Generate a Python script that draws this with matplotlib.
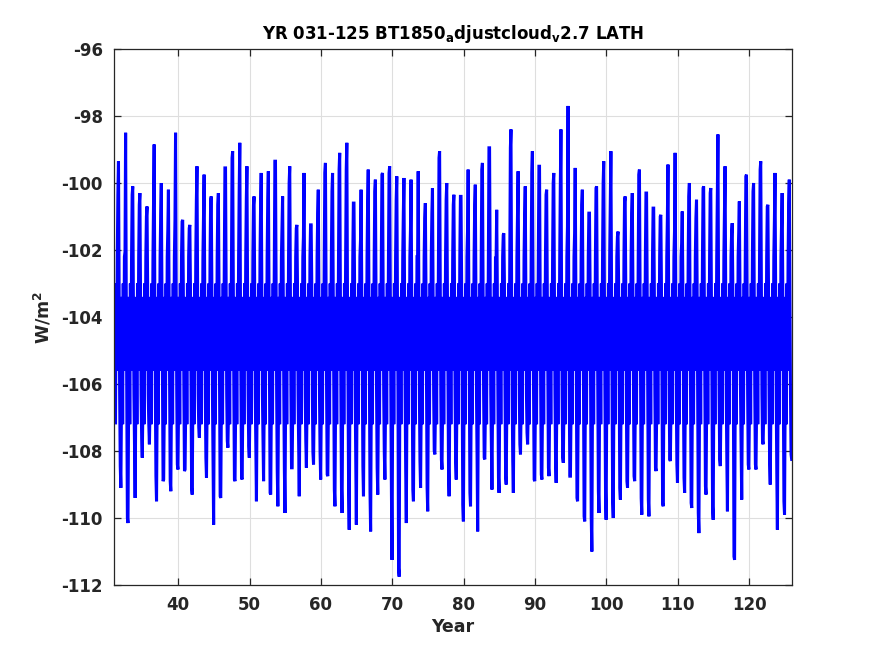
"""Monthly LATH time series, years 031-125, MATLAB-style line plot."""
import matplotlib
matplotlib.use("Agg")
import matplotlib.pyplot as plt
import numpy as np

# --- data -----------------------------------------------------------------
YEARS = list(range(31, 126))

# annual maximum (single-month spike, around Aug) per year
PEAK = [
    -99.35, -98.5, -100.1, -100.3, -100.7, -98.85, -100.0, -100.2, -98.5,    # 31-39
    -101.1, -101.25, -99.5, -99.75, -100.4, -100.3, -99.55, -99.05, -98.8, -99.5,  # 40-49
    -100.4, -99.7, -99.65, -99.35, -100.4, -99.5, -101.25, -99.7, -101.25, -100.2,  # 50-59
    -99.4, -99.7, -99.1, -98.8, -100.6, -100.2, -99.6, -99.9, -99.7, -99.5,    # 60-69
    -99.8, -99.85, -99.9, -99.65, -100.6, -100.15, -99.05, -100.0, -100.35, -100.4,  # 70-79
    -99.6, -100.05, -99.4, -98.95, -100.8, -101.5, -98.4, -99.65, -100.1, -99.05,  # 80-89
    -99.5, -100.2, -99.7, -98.4, -97.7, -99.55, -100.2, -100.9, -100.1, -99.35,  # 90-99
    -99.05, -101.45, -100.4, -100.3, -99.6, -100.3, -100.75, -100.95, -99.45, -99.1,  # 100-109
    -100.85, -100.0, -100.5, -100.1, -100.15, -98.55, -99.5, -101.2, -100.55, -99.75,  # 110-119
    -100.0, -99.35, -100.65, -99.7, -100.3, -99.9,                               # 120-125
]

# second-highest month of each year (next to the peak)
SHOULDER_HI = [
    -100.35, -102.05, -100.35, -100.65, -101.0, -100.5, -100.95, -101.4, -101.1,  # 31-39
    -101.15, -101.35, -100.5, -100.95, -100.5, -100.65, -99.55, -99.25, -100.2, -100.45,  # 40-49
    -100.65, -100.65, -100.5, -99.35, -101.35, -100.0, -101.35, -101.6, -101.25, -100.9,  # 50-59
    -99.7, -100.25, -99.6, -99.6, -100.6, -101.7, -100.55, -100.25, -99.75, -99.7,  # 60-69
    -100.5, -100.9, -101.4, -102.2, -101.05, -100.9, -99.25, -100.5, -100.65, -100.4,  # 70-79
    -101.4, -100.65, -99.6, -98.95, -102.3, -101.55, -98.95, -100.8, -100.95, -99.7,  # 80-89
    -99.5, -100.35, -100.0, -100.05, -101.3, -101.5, -100.65, -100.9, -100.15, -100.0,  # 90-99
    -100.6, -101.6, -100.55, -100.9, -99.75, -100.3, -100.75, -101.0, -101.05, -101.45,  # 100-109
    -101.8, -100.4, -101.05, -100.15, -100.3, -100.4, -100.9, -101.5, -101.45, -99.8,  # 110-119
    -100.25, -99.6, -100.7, -101.1, -101.2, -100.6,                              # 120-125
]

# annual minimum (single-month spike, around Dec) per year
TROUGH = [
    -109.1, -110.15, -109.4, -108.2, -107.8, -109.5, -108.85, -109.2, -108.55,  # 31-39
    -108.55, -109.3, -107.6, -108.8, -110.2, -109.4, -107.9, -108.9, -108.85, -108.2,  # 40-49
    -109.5, -108.9, -109.3, -109.65, -109.85, -108.5, -109.35, -108.5, -108.4, -108.85,  # 50-59
    -108.75, -109.65, -109.85, -110.35, -110.2, -109.35, -110.4, -109.3, -108.85, -111.25,  # 60-69
    -111.75, -110.15, -109.5, -109.1, -109.8, -108.1, -108.55, -109.35, -108.85, -110.1,  # 70-79
    -109.65, -110.4, -108.25, -109.15, -109.25, -109.0, -109.25, -108.1, -107.8, -108.9,  # 80-89
    -108.85, -108.75, -108.95, -108.35, -108.75, -109.5, -110.1, -111.0, -109.85, -110.05,  # 90-99
    -110.0, -109.45, -109.1, -108.9, -109.9, -109.95, -108.6, -109.65, -108.3, -108.95,  # 100-109
    -109.25, -109.7, -110.45, -109.3, -110.05, -108.45, -109.8, -111.25, -109.45, -108.55,  # 110-119
    -108.55, -107.8, -109.0, -110.35, -109.9, -108.25,                           # 120-125
]

# second-lowest month of each year (next to the trough)
SHOULDER_LO = [
    -108.45, -110.0, -108.0, -107.6, -107.2, -108.75, -108.9, -108.9, -108.4,  # 31-39
    -108.6, -109.1, -107.3, -108.2, -108.25, -109.35, -107.7, -108.85, -108.8, -107.85,  # 40-49
    -108.05, -107.7, -109.25, -108.6, -108.6, -108.5, -107.7, -107.7, -108.05, -108.05,  # 50-59
    -108.7, -109.15, -109.15, -109.2, -108.45, -108.45, -109.25, -108.5, -108.05, -109.25,  # 60-69
    -111.5, -108.6, -109.15, -108.3, -109.1, -108.0, -108.25, -108.55, -108.35, -109.6,  # 70-79
    -109.25, -108.15, -108.2, -107.75, -108.8, -108.75, -108.3, -107.8, -107.45, -108.85,  # 80-89
    -108.7, -108.5, -108.3, -108.2, -108.75, -109.4, -109.95, -110.0, -109.2, -109.2,  # 90-99
    -109.5, -109.1, -108.9, -108.75, -109.4, -109.45, -108.5, -109.55, -108.25, -108.4,  # 100-109
    -108.8, -109.55, -109.85, -109.05, -109.65, -108.25, -108.25, -111.15, -107.8, -108.4,  # 110-119
    -108.4, -107.7, -108.4, -108.65, -109.5, -108.1,                             # 120-125
]

# typical value of the other months (None = taken from the per-year lists)
MONTH_TYPICAL = [-106.8, -103.4, -107.2, -103.0, -105.6, -102.2,
                 None, None, -103.0, -106.3, None, None]
PER_YEAR = {6: SHOULDER_HI, 7: PEAK, 10: SHOULDER_LO, 11: TROUGH}


def monthly_series():
    t, v = [], []
    for i, yr in enumerate(YEARS):
        for m in range(12):
            val = PER_YEAR[m][i] if m in PER_YEAR else MONTH_TYPICAL[m]
            t.append(yr + (m + 0.5) / 12.0)
            v.append(val)
    return np.array(t), np.array(v)


def main():
    plt.rcParams["font.family"] = "DejaVu Sans"
    plt.rcParams["font.weight"] = "bold"
    plt.rcParams["mathtext.fontset"] = "dejavusans"
    plt.rcParams["axes.unicode_minus"] = False

    t, v = monthly_series()

    fig = plt.figure(figsize=(8.75, 6.56), dpi=100)
    ax = fig.add_axes([0.1303, 0.1082, 0.7748, 0.8171])

    ax.plot(t, v, color="#0000ff", linewidth=2.2, solid_joinstyle="miter")

    ax.set_xlim(31, 126)
    ax.set_ylim(-112, -96)
    ax.set_xticks(range(40, 121, 10))
    ax.set_yticks(range(-112, -95, 2))

    dark = "#262626"
    ax.grid(True, color="#dedede", linewidth=0.8)
    ax.set_axisbelow(True)
    for sp in ax.spines.values():
        sp.set_color(dark)
        sp.set_linewidth(0.9)
    ax.tick_params(direction="in", length=5, width=0.9, top=True, right=True,
                   colors=dark, labelsize=12, pad=8)
    for lab in ax.get_xticklabels() + ax.get_yticklabels():
        lab.set_fontweight("bold")

    ax.set_xlabel("Year", fontsize=12.5, fontweight="bold", color=dark, labelpad=3)
    ax.set_ylabel(r"W/m$^{\mathbf{2}}$", fontsize=12.5, fontweight="bold",
                  color=dark, labelpad=6)
    ax.set_title(r"YR 031-125 BT1850$_{\mathbf{a}}$djustcloud$_{\mathbf{v}}$2.7 LATH",
                 fontsize=12, fontweight="bold", color="black", pad=7)

    fig.savefig("out.png", dpi=100)


if __name__ == "__main__":
    main()
